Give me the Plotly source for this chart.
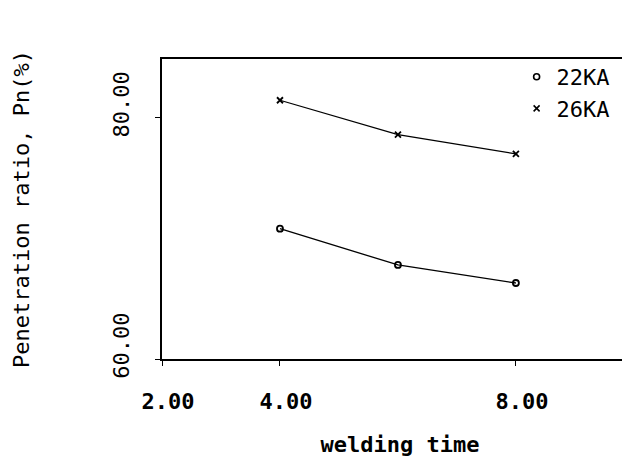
import plotly.graph_objects as go

time_s = [4.0, 6.0, 8.0]
pn_22ka = [70.8, 67.8, 66.3]
pn_26ka = [81.45, 78.6, 77.0]
series_names = ["22KA", "26KA"]
x_tickvals = [2, 4, 8]
x_ticktext = ["2.00", "4.00", "8.00"]
y_tickvals = [60, 80]
y_ticktext = ["60.00", "80.00"]

FONT = "DejaVu Sans Mono"
fig = go.Figure()
for ys, sym in [(pn_22ka, "circle-open"), (pn_26ka, "x-thin-open")]:
    fig.add_trace(go.Scatter(x=time_s, y=ys, mode="lines+markers",
                             line=dict(color="black", width=1.3),
                             marker=dict(symbol=sym, size=6, color="black",
                                         line=dict(width=1.8, color="black")),
                             showlegend=False))
for name, sym in zip(series_names, ["circle-open", "x-thin-open"]):
    fig.add_trace(go.Scatter(x=[None], y=[None], mode="markers", name=name,
                             marker=dict(symbol=sym, size=6, color="black",
                                         line=dict(width=1.6, color="black"))))

fig.update_layout(
    width=630, height=468,
    margin=dict(l=154, r=0, t=51, b=117, autoexpand=False),
    plot_bgcolor="white", paper_bgcolor="white",
    font=dict(family=FONT, size=20, color="black"),
    legend=dict(x=0.745, y=1.01, xanchor="left", yanchor="top",
                bgcolor="rgba(0,0,0,0)", font=dict(size=22),
                itemwidth=30, tracegroupgap=0),
    xaxis=dict(range=[2, 10.07], tickvals=x_tickvals, ticktext=x_ticktext,
               showline=True, linecolor="black", linewidth=2, mirror=True,
               ticks="outside", ticklen=5, tickcolor="black",
               showgrid=False, zeroline=False, ticklabelstandoff=17,
               ticklabelshift=6, automargin=False,
               tickfont=dict(size=22, family=FONT, weight="bold"),
               title=dict(text="welding time", standoff=23,
                          font=dict(size=22, family=FONT, weight="bold"))),
    yaxis=dict(range=[60, 84.87], tickvals=y_tickvals, ticktext=y_ticktext,
               showline=True, linecolor="black", linewidth=2, mirror=False,
               ticks="outside", ticklen=5, tickcolor="black",
               showgrid=False, zeroline=False, tickangle=-90,
               ticklabelstandoff=17, ticklabelshift=-10, automargin=False,
               tickfont=dict(size=22, family=FONT),
               title=dict(text="Penetration ratio, Pn(%)", standoff=74,
                          font=dict(size=22, family=FONT))),
)
fig.write_html("out.html")
